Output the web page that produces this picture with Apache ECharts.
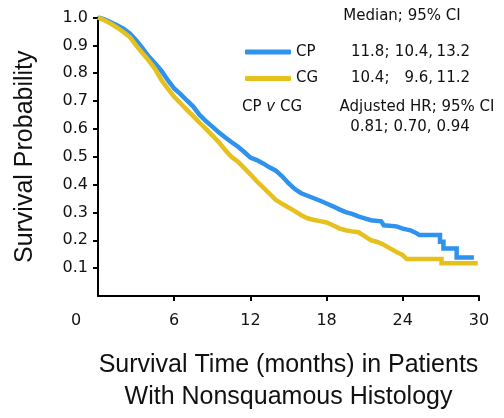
<!DOCTYPE html>
<html>
<head>
<meta charset="utf-8">
<script src="https://cdn.jsdelivr.net/npm/echarts@6/dist/echarts.min.js"></script>
<style>
  html, body { margin: 0; padding: 0; background: #fff; }
  #chart { width: 504px; height: 418px; }
</style>
</head>
<body>
<div id="chart"></div>
<script>
// Kaplan-Meier curves (months, survival probability)
const cpTime = [0, 0.5, 1, 1.5, 2, 2.5, 3, 3.5, 4, 4.5, 5, 5.5, 6, 6.5, 7, 7.5, 8, 8.5, 9, 9.5,
  10, 10.5, 11, 11.5, 12, 12.5, 13, 13.5, 14, 14.5, 15, 15.5, 16, 16.5, 17, 17.5, 18, 18.5, 19, 19.5,
  20, 20.5, 21, 21.5, 22.3, 22.5, 23.5, 24, 24.6, 25.1, 25.3, 26.93, 26.93, 27.2, 27.2, 28.24, 28.24, 29.6];
const cpSurv = [1.0, 0.993, 0.983, 0.972, 0.96, 0.943, 0.918, 0.89, 0.86, 0.835, 0.808, 0.775, 0.745, 0.725, 0.702, 0.68, 0.65, 0.628, 0.608, 0.588,
  0.57, 0.553, 0.537, 0.518, 0.497, 0.488, 0.476, 0.462, 0.45, 0.43, 0.405, 0.384, 0.369, 0.36, 0.351, 0.342, 0.332, 0.322, 0.311, 0.301,
  0.295, 0.286, 0.279, 0.272, 0.268, 0.254, 0.25, 0.242, 0.236, 0.225, 0.219, 0.219, 0.195, 0.195, 0.171, 0.171, 0.138, 0.138];

const cgTime = [0, 0.5, 1, 1.5, 2, 2.5, 3, 3.5, 4, 4.5, 5, 5.5, 6, 6.5, 7, 7.5, 8, 8.5, 9, 9.5,
  10, 10.5, 11, 11.5, 12, 12.5, 13, 13.5, 14, 14.5, 15, 15.5, 16, 16.5, 17, 17.5, 18, 18.5, 19, 19.5,
  20, 20.5, 21, 21.5, 22, 22.5, 23, 23.5, 24, 24.3, 27.05, 27.05, 29.9];
const cgSurv = [1.0, 0.99, 0.978, 0.964, 0.948, 0.93, 0.9, 0.872, 0.845, 0.815, 0.775, 0.745, 0.715, 0.692, 0.668, 0.646, 0.622, 0.6, 0.577, 0.553,
  0.525, 0.5, 0.483, 0.46, 0.437, 0.412, 0.39, 0.368, 0.345, 0.331, 0.318, 0.305, 0.29, 0.279, 0.273, 0.269, 0.264, 0.254, 0.243, 0.236,
  0.232, 0.229, 0.215, 0.2, 0.194, 0.184, 0.171, 0.158, 0.147, 0.133, 0.133, 0.118, 0.118];

const seriesNames = ['CP', 'CG'];
const medianCI = { CP: ['11.8;', '10.4,', '13.2'], CG: ['10.4;', '9.6,', '11.2'] };
const xTicks = [6, 12, 18, 24, 30];
const xLabels = [0, 6, 12, 18, 24, 30];
const yTicks = [0.1, 0.2, 0.3, 0.4, 0.5, 0.6, 0.7, 0.8, 0.9, 1.0];

const colors = { CP: '#2f93ee', CG: '#e6c01c' };
const tickFont = 'DejaVu Sans';
const nameFont = 'Liberation Sans';

const toPairs = (t, s) => t.map((v, i) => [v, s[i]]);

const chart = echarts.init(document.getElementById('chart'), null, { renderer: 'canvas' });

chart.setOption({
  animation: false,
  backgroundColor: '#fff',
  grid: { left: 98, right: 25, top: 17.5, bottom: 120 },
  legend: {
    data: seriesNames,
    orient: 'vertical',
    left: 245,
    top: 43.5,
    padding: 0,
    itemGap: 9.5,
    itemWidth: 46,
    itemHeight: 5,
    icon: 'roundRect',
    selectedMode: false,
    formatter: name => {
      const v = medianCI[name];
      return `{n|${name}}{a|${v[0]}}{b|${v[1]}}{c|${v[2]}}`;
    },
    textStyle: {
      color: '#111',
      fontFamily: tickFont,
      fontSize: 15,
      lineHeight: 17,
      rich: {
        n: { fontFamily: tickFont, fontSize: 15, width: 55, lineHeight: 17 },
        a: { fontFamily: tickFont, fontSize: 15, width: 47, lineHeight: 17 },
        b: { fontFamily: tickFont, fontSize: 15, width: 35, align: 'right', lineHeight: 17 },
        c: { fontFamily: tickFont, fontSize: 15, width: 37, align: 'right', lineHeight: 17 }
      }
    }
  },
  xAxis: [
    {
      type: 'value',
      min: 0,
      max: 30,
      interval: 6,
      position: 'bottom',
      axisLine: { show: false },
      splitLine: { show: false },
      axisTick: {
        show: true,
        inside: false,
        length: 5,
        customValues: xTicks,
        lineStyle: { color: '#000', width: 2 }
      },
      axisLabel: {
        customValues: xLabels,
        margin: 17,
        color: '#111',
        fontFamily: tickFont,
        fontSize: 16,
        formatter: v => (v === 0 ? '{z|0}' : String(v)),
        rich: {
          z: { fontFamily: tickFont, fontSize: 16, color: '#111', padding: [0, 44, 0, 0] }
        }
      }
    },
    {
      // axis line only, runs past 30 like the original
      type: 'value',
      min: 0,
      max: 32,
      position: 'bottom',
      axisLine: { show: true, lineStyle: { color: '#000', width: 2 } },
      axisTick: { show: false },
      axisLabel: { show: false },
      splitLine: { show: false },
      name: 'Survival Time (months) in Patients\nWith Nonsquamous Histology',
      nameLocation: 'middle',
      nameGap: 53,
      nameTextStyle: {
        color: '#111',
        fontFamily: nameFont,
        fontSize: 25,
        lineHeight: 32
      }
    }
  ],
  yAxis: {
    type: 'value',
    min: 0,
    max: 1,
    interval: 0.1,
    axisLine: { show: true, lineStyle: { color: '#000', width: 2 } },
    splitLine: { show: false },
    axisTick: {
      show: true,
      length: 5,
      customValues: yTicks,
      lineStyle: { color: '#000', width: 2 }
    },
    axisLabel: {
      customValues: yTicks,
      margin: 10,
      color: '#111',
      fontFamily: tickFont,
      fontSize: 16,
      formatter: v => v.toFixed(1)
    },
    name: 'Survival Probability',
    nameLocation: 'middle',
    nameGap: 60,
    nameTextStyle: {
      color: '#111',
      fontFamily: nameFont,
      fontSize: 25
    }
  },
  graphic: [
    {
      type: 'text',
      style: {
        text: 'Median; 95% CI',
        x: 402, y: 16,
        align: 'center', verticalAlign: 'middle',
        font: `15px "${tickFont}"`, fill: '#111'
      }
    },
    {
      type: 'text',
      style: {
        text: 'CP {i|v} CG',
        x: 242, y: 107,
        align: 'left', verticalAlign: 'middle',
        font: `15px "${tickFont}"`, fill: '#111',
        rich: { i: { font: `italic 15px "${tickFont}"`, fill: '#111' } }
      }
    },
    {
      type: 'text',
      style: {
        text: 'Adjusted HR; 95% CI',
        x: 417, y: 107,
        align: 'center', verticalAlign: 'middle',
        font: `15px "${tickFont}"`, fill: '#111'
      }
    },
    {
      type: 'text',
      style: {
        text: '0.81; 0.70, 0.94',
        x: 410, y: 127,
        align: 'center', verticalAlign: 'middle',
        font: `15px "${tickFont}"`, fill: '#111'
      }
    }
  ],
  series: [
    {
      name: 'CP',
      type: 'line',
      xAxisIndex: 0,
      data: toPairs(cpTime, cpSurv),
      showSymbol: false,
      symbol: 'none',
      lineStyle: { color: colors.CP, width: 4.5, cap: 'butt', join: 'miter' },
      itemStyle: { color: colors.CP },
      z: 2
    },
    {
      name: 'CG',
      type: 'line',
      xAxisIndex: 0,
      data: toPairs(cgTime, cgSurv),
      showSymbol: false,
      symbol: 'none',
      lineStyle: { color: colors.CG, width: 4.5, cap: 'butt', join: 'miter' },
      itemStyle: { color: colors.CG },
      z: 3
    }
  ]
});
</script>
</body>
</html>
